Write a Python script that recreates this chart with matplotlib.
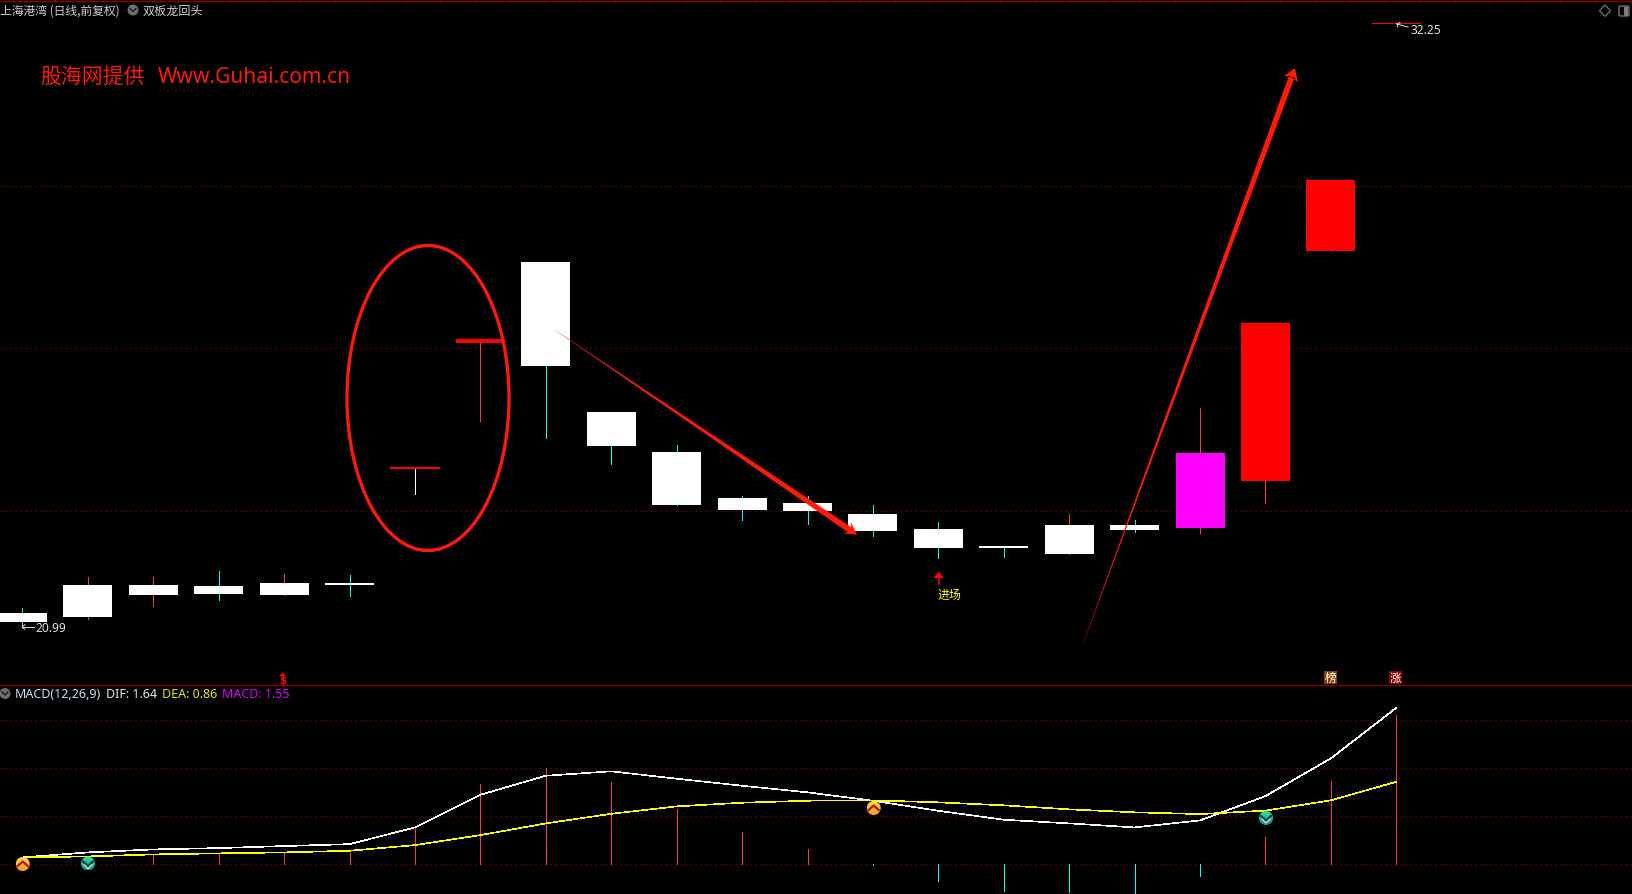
import matplotlib
matplotlib.use('Agg')
import matplotlib.pyplot as plt
from matplotlib.patches import Ellipse, Polygon, Circle, Rectangle, FancyBboxPatch
import numpy as np

plt.rcParams['font.family'] = ['Noto Sans CJK SC', 'DejaVu Sans']

days = list(range(22))

# candle values
body_top = [21.251, 21.773, 21.773, 21.755, 21.811, 21.811, 23.975, 26.369, 27.806, 25.001, 24.255,
            23.397, 23.303, 23.098, 22.818, 22.501, 22.893, 22.893, 24.236, 26.662, 29.330, 32.26]
body_bot = [21.089, 21.182, 21.593, 21.605, 21.593, 21.773, 23.947, 26.289, 25.860, 24.367, 23.266,
            23.173, 23.154, 22.781, 22.464, 22.464, 22.352, 22.800, 22.837, 23.714, 28.005, 32.24]
high = [21.344, 21.923, 21.923, 22.035, 21.979, 21.960, 23.975, 26.369, 27.806, 25.001, 24.386,
        23.434, 23.434, 23.266, 22.949, 22.501, 23.098, 22.986, 25.076, 26.662, 29.330, 32.25]
low = [20.99, 21.139, 21.387, 21.499, 21.593, 21.574, 23.471, 24.839, 24.516, 24.031, 23.266,
       22.986, 22.912, 22.688, 22.277, 22.296, 22.352, 22.762, 22.749, 23.309, 28.005, 32.25]
body_colors = ['#ffffff'] * 6 + ['#ff0000', '#ff0000'] + ['#ffffff'] * 10 + ['#ff00ff', '#ff0000', '#ff0000', '#ff0000']
wick_colors = ['#00ffff', '#f04040', '#f04040', '#00ffff', '#f04040', '#00ffff', '#ffffff', '#f04040',
               '#00ffff', '#00ffff', '#00ffff', '#00ffff', '#00ffff', '#00ffff', '#00ffff', '#00ffff',
               '#f04040', '#00ffff', '#f04040', '#f04040', '#ff0000', '#ff0000']
price_grid = [29.21, 26.19, 23.15]

dif = [0.073, 0.125, 0.156, 0.170, 0.191, 0.211, 0.385, 0.725, 0.923, 0.969, 0.892,
       0.819, 0.750, 0.663, 0.558, 0.465, 0.427, 0.385, 0.458, 0.711, 1.104, 1.63]
dea = [0.073, 0.083, 0.104, 0.115, 0.125, 0.142, 0.201, 0.305, 0.427, 0.527, 0.604,
       0.642, 0.663, 0.667, 0.646, 0.615, 0.573, 0.542, 0.524, 0.560, 0.667, 0.86]
macd = [0, 0, 0.104, 0.104, 0.121, 0.121, 0.385, 0.836, 1.003, 0.857, 0.576,
        0.336, 0.159, -0.01, -0.171, -0.275, -0.285, -0.296, -0.119, 0.284, 0.868, 1.55]
macd_grid = [0, 0.5, 1.0, 1.5]

RED = '#ff1a0a'
GRID = '#8a0000'
W, H = 1633, 895
xlim = ((0 - 22.5) / 65.42, (W - 22.5) / 65.42)

fig = plt.figure(figsize=(W / 100, H / 100), dpi=100, facecolor='black')

# price panel
ax = fig.add_axes([0, (H - 686) / H, 1, 686 / H], facecolor='black')
ax.set_xlim(xlim)
ax.set_ylim(19.908, 32.707)
ax.axis('off')
for p in price_grid:
    ax.axhline(p, color=GRID, lw=0.8, ls=(0, (1, 3.5)), zorder=1)
ax.vlines(days, low, high, colors=wick_colors, lw=0.6, zorder=2, antialiased=False)
ax.bar(days, np.array(body_top) - np.array(body_bot), bottom=body_bot, width=0.75,
       color=body_colors, linewidth=0, zorder=3)

# macd panel
ax2 = fig.add_axes([0, 0, 1, (H - 687) / H], facecolor='black')
ax2.set_xlim(xlim)
ax2.set_ylim(-0.308, 1.857)
ax2.axis('off')
for g in macd_grid:
    ax2.axhline(g, color=GRID, lw=0.8, ls=(0, (1, 3.5)), zorder=1)
bar_colors = ['#ff3c3c' if m > 0 else '#00ffff' for m in macd]
ax2.vlines(days, 0, macd, colors=bar_colors, lw=0.6, zorder=2, antialiased=False)
ax2.plot(days, dif, color='#ffffff', lw=0.45, zorder=3, antialiased=False)
ax2.plot(days, dea, color='#ffff00', lw=0.45, zorder=3, antialiased=False)

# overlay in pixel coordinates for the hand drawn marks and the labels
ov = fig.add_axes([0, 0, 1, 1], facecolor='none')
ov.set_xlim(0, W)
ov.set_ylim(H, 0)
ov.axis('off')

ov.plot([0, W], [1.5, 1.5], color='#8b0000', lw=1.0)
ov.vlines(np.arange(20, W, 35), 0, 3, color='#8b0000', lw=0.7)
ov.plot([0, W], [686.3, 686.3], color='#8b0000', lw=1.0)

ov.add_patch(Ellipse((428, 399), 162, 305, fill=False, ec=RED, lw=2.4, zorder=5))


def hand_arrow(start, tip, wing1, wing2, width):
    start, tip = np.array(start, float), np.array(tip, float)
    d = tip - start
    length = np.hypot(*d)
    d = d / length
    n = np.array([-d[1], d[0]])
    neck = tip - d * 9
    pts = [start + n * 0.1, neck + n * width / 2, wing1, tip, wing2, neck - n * width / 2, start - n * 0.1]
    ov.add_patch(Polygon(pts, closed=True, fc=RED, ec='none', zorder=5))


hand_arrow((555, 331), (857, 535.7), (843, 534.5), (851, 523), 6)
hand_arrow((1083, 645), (1295, 69), (1284, 77), (1298, 83), 6)


def badge(cx, cy, top, bottom, chev, up):
    grad = np.linspace(0, 1, 32).reshape(-1, 1, 1)
    c1 = np.array(matplotlib.colors.to_rgb(top)).reshape(1, 1, 3)
    c2 = np.array(matplotlib.colors.to_rgb(bottom)).reshape(1, 1, 3)
    img = ov.imshow(c1 * (1 - grad) + c2 * grad, extent=(cx - 7, cx + 7, cy + 7, cy - 7),
                    aspect='auto', zorder=6)
    img.set_clip_path(Circle((cx, cy), 7, transform=ov.transData))
    s = -1 if up else 1
    ov.plot([cx - 5, cx, cx + 5], [cy - s * 2, cy + s * 2.5, cy - s * 2], color=chev, lw=1.6, zorder=7)
    if not up:
        ov.plot([cx - 4, cx, cx + 4], [cy + 1, cy + 5, cy + 1], color='#d8f0e8', lw=0.8, zorder=7)


badge(22.7, 865, '#ffe040', '#ff9a20', '#b81010', True)
badge(88, 864.5, '#38dfa0', '#109a90', '#0c3c40', False)
badge(873.7, 809, '#ffe040', '#ff9a20', '#b81010', True)
badge(1266, 819, '#38dfa0', '#109a90', '#0c3c40', False)
ov.set_xlim(0, W)
ov.set_ylim(H, 0)

# header texts
ov.text(0, 11, '上海港湾 (日线,前复权)', color='#cfcfcf', fontsize=8.5, va='center')
ov.add_patch(Circle((133, 11), 5.5, fc='#6e6e6e', ec='none'))
ov.plot([130, 133, 136], [9.5, 12.5, 9.5], color='#111111', lw=0.9)
ov.text(143, 11, '双板龙回头', color='#cfcfcf', fontsize=8.7, va='center')
ov.text(40, 77, '股海网提供', color=RED, fontsize=15, va='center')
ov.text(158, 77, 'Www.Guhai.com.cn', color=RED, fontsize=15.1, va='center', family='Noto Sans')

ov.add_patch(Circle((5, 694.5), 5.5, fc='#6e6e6e', ec='none'))
ov.plot([2, 5, 8], [693, 696, 693], color='#111111', lw=0.9)
ov.text(15, 694, 'MACD(12,26,9)', color='#c8e0f0', fontsize=9, va='center', family='Noto Sans')
ov.text(106, 694, 'DIF: 1.64', color='#e8e8e8', fontsize=9, va='center', family='Noto Sans')
ov.text(162, 694, 'DEA: 0.86', color='#e6e600', fontsize=9, va='center', family='Noto Sans')
ov.text(222, 694, 'MACD: 1.55', color='#e000ff', fontsize=9, va='center', family='Noto Sans')

# price labels
ov.plot([22, 34], [628, 628], color='#d8d8d8', lw=0.7)
ov.plot([25, 22, 25], [625.5, 628, 630.5], color='#d8d8d8', lw=0.7)
ov.text(35, 628, '20.99', color='#d8e4f0', fontsize=8.6, va='center', family='Noto Sans')
ov.plot([1397, 1408], [25, 28], color='#e8e8e8', lw=0.7)
ov.plot([1400, 1397, 1398], [23.5, 25, 28], color='#e8e8e8', lw=0.7)
ov.text(1411, 30, '32.25', color='#d8e4f0', fontsize=8.6, va='center', family='Noto Sans')

# entry marker
ov.plot([938.7, 938.7], [577, 585], color='#ff0000', lw=1.1)
ov.add_patch(Polygon([(938.7, 572.7), (933.5, 579), (944, 579)], fc='#ff0000', ec='none'))
ov.text(937.5, 595, '进场', color='#ffff00', fontsize=8.6, va='center')

# event tags above the macd panel
ov.text(282.7, 681, '$', color='#ff0000', fontsize=7.5, fontweight='bold', ha='center', va='center',
        family='DejaVu Sans')
ov.add_patch(Polygon([(282.7, 673.5), (279.5, 677), (286, 677)], fc='#ff0000', ec='none'))
ov.add_patch(Rectangle((1324, 672), 13, 13, fc='#7f4000', ec='none'))
ov.text(1330.5, 678.3, '榜', color='white', fontsize=8.4, ha='center', va='center')
ov.add_patch(Rectangle((1389, 672), 13, 13, fc='#800000', ec='none'))
ov.text(1395.5, 678.3, '涨', color='white', fontsize=8.4, ha='center', va='center')

# window buttons
ov.add_patch(Polygon([(1605, 6), (1610.5, 11.7), (1605, 17.4), (1599.5, 11.7)], fc='none', ec='#808080', lw=0.8))
ov.add_patch(FancyBboxPatch((1619, 7), 10, 10, boxstyle='round,pad=0,rounding_size=1.5', fc='none',
                            ec='#808080', lw=0.9))
ov.add_patch(Rectangle((1624.5, 7.5), 4, 9, fc='#808080', ec='none'))

fig.savefig('out.png', dpi=100, facecolor='black')
